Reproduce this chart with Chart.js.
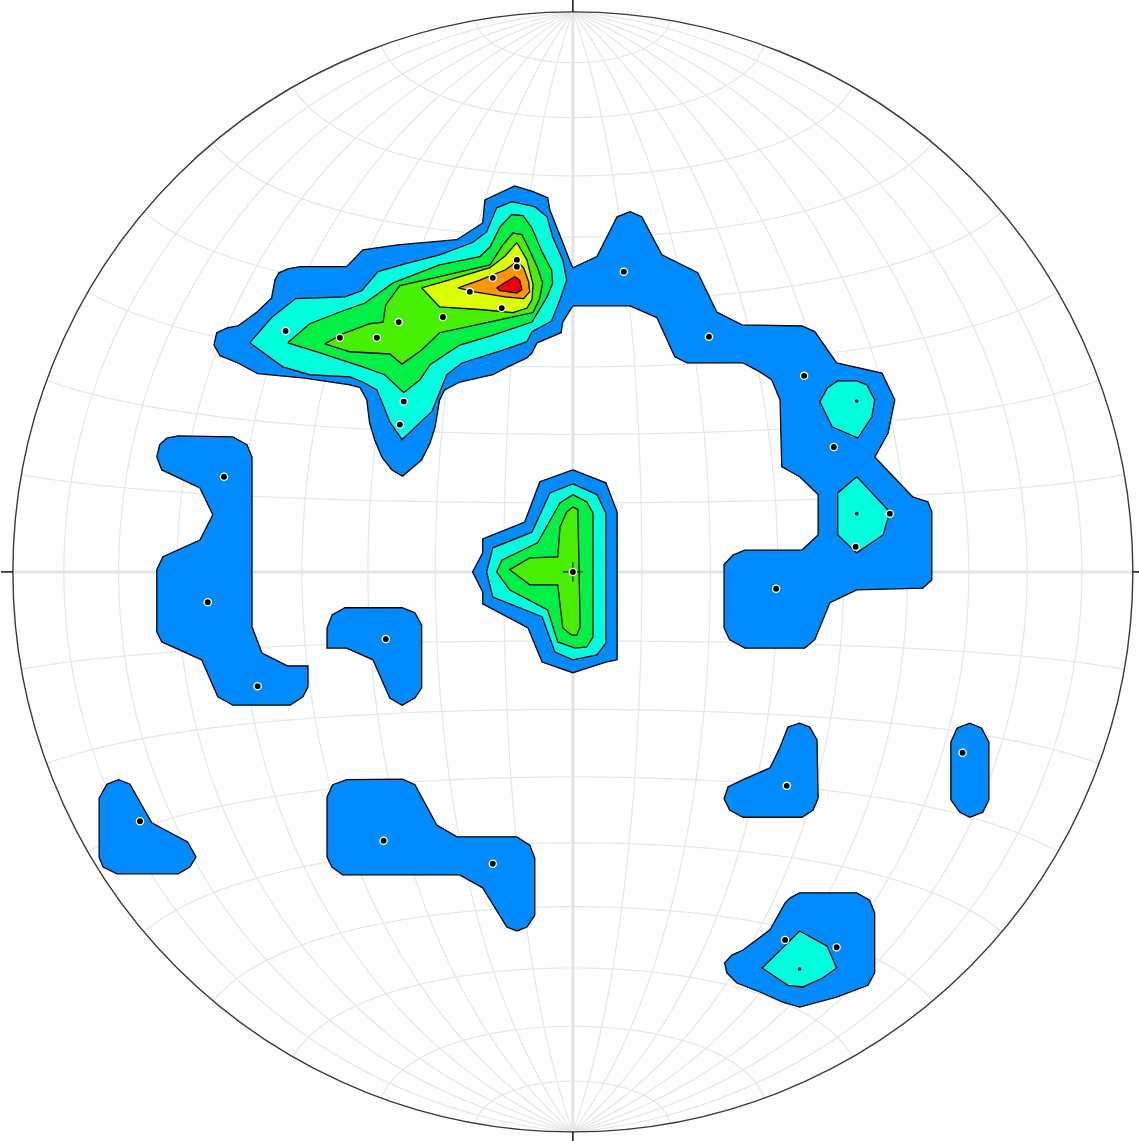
<!DOCTYPE html>
<html>
<head>
<meta charset="utf-8">
<script src="https://cdn.jsdelivr.net/npm/chart.js@4.4.0/dist/chart.umd.min.js"></script>
<style>
  html, body { margin: 0; padding: 0; background: #fff; }
  #wrap { width: 1139px; height: 1141px; }
</style>
</head>
<body>
<div id="wrap"><canvas id="net" width="1139" height="1141"></canvas></div>
<script>
// Equal-area net, radius = 1. Contour polygons are [x, y] in net units.

// level 1 (outermost)
const level1 = [
  // NW cluster joined to the eastern arc
  [[-0.641,0.405],[-0.636,0.427],[-0.616,0.436],[-0.598,0.439],[-0.564,0.464],[-0.538,0.489],[-0.532,0.521],
   [-0.525,0.534],[-0.509,0.541],[-0.487,0.545],[-0.404,0.545],[-0.375,0.575],[-0.313,0.584],[-0.207,0.593],
   [-0.161,0.623],[-0.157,0.664],[-0.104,0.689],[-0.071,0.679],[-0.045,0.668],[-0.041,0.646],[-0.018,0.588],
   [-0.005,0.554],[0,0.543],[0.043,0.563],[0.079,0.634],[0.102,0.643],[0.123,0.634],[0.159,0.566],[0.223,0.534],
   [0.257,0.464],[0.302,0.441],[0.409,0.439],[0.432,0.429],[0.471,0.373],[0.552,0.355],[0.575,0.307],[0.563,0.248],
   [0.539,0.205],[0.607,0.134],[0.634,0.125],[0.641,0.107],[0.641,-0.014],[0.625,-0.029],[0.507,-0.032],
   [0.459,-0.055],[0.432,-0.121],[0.414,-0.136],[0.307,-0.136],[0.280,-0.121],[0.270,-0.100],[0.270,0.013],
   [0.286,0.030],[0.307,0.039],[0.409,0.039],[0.438,0.066],[0.438,0.138],[0.405,0.170],[0.373,0.188],[0.370,0.307],
   [0.355,0.343],[0.334,0.357],[0.304,0.373],[0.204,0.373],[0.182,0.384],[0.150,0.454],[0.102,0.475],[0,0.475],
   [-0.018,0.446],[-0.021,0.427],[-0.064,0.409],[-0.073,0.391],[-0.082,0.382],[-0.116,0.366],[-0.143,0.352],
   [-0.202,0.339],[-0.229,0.325],[-0.238,0.307],[-0.246,0.259],[-0.255,0.230],[-0.270,0.200],[-0.304,0.171],
   [-0.323,0.182],[-0.341,0.205],[-0.354,0.236],[-0.363,0.266],[-0.368,0.307],[-0.380,0.329],[-0.398,0.334],
   [-0.479,0.346],[-0.563,0.354],[-0.598,0.373],[-0.630,0.386]],
  // centre
  [[0,0.182],[0.059,0.159],[0.079,0.107],[0.079,-0.157],[0.059,-0.161],[0,-0.180],[-0.055,-0.161],[-0.080,-0.100],
   [-0.161,-0.057],[-0.161,-0.036],[-0.179,0],[-0.161,0.034],[-0.161,0.059],[-0.086,0.089],[-0.059,0.161]],
  // west
  [[-0.725,0.239],[-0.705,0.243],[-0.607,0.241],[-0.582,0.227],[-0.573,0.205],[-0.573,-0.098],[-0.555,-0.145],
   [-0.509,-0.168],[-0.473,-0.168],[-0.473,-0.205],[-0.482,-0.223],[-0.505,-0.238],[-0.607,-0.238],[-0.634,-0.223],
   [-0.663,-0.157],[-0.734,-0.125],[-0.743,-0.107],[-0.743,0.004],[-0.732,0.027],[-0.666,0.057],[-0.643,0.102],
   [-0.666,0.150],[-0.734,0.182],[-0.743,0.205],[-0.738,0.227]],
  [[-0.439,-0.100],[-0.430,-0.077],[-0.407,-0.064],[-0.305,-0.064],[-0.282,-0.073],[-0.270,-0.095],[-0.270,-0.207],
   [-0.282,-0.225],[-0.305,-0.238],[-0.327,-0.225],[-0.357,-0.157],[-0.404,-0.136],[-0.439,-0.136]],
  // south-west
  [[-0.832,-0.379],[-0.811,-0.371],[-0.791,-0.379],[-0.752,-0.448],[-0.688,-0.482],[-0.673,-0.509],[-0.684,-0.527],
   [-0.705,-0.539],[-0.814,-0.539],[-0.839,-0.527],[-0.846,-0.509],[-0.846,-0.404]],
  [[-0.429,-0.380],[-0.404,-0.371],[-0.304,-0.370],[-0.282,-0.380],[-0.243,-0.452],[-0.207,-0.473],[-0.100,-0.473],
   [-0.077,-0.488],[-0.068,-0.511],[-0.068,-0.613],[-0.082,-0.634],[-0.100,-0.641],[-0.118,-0.634],[-0.161,-0.564],
   [-0.202,-0.541],[-0.411,-0.541],[-0.430,-0.527],[-0.439,-0.509],[-0.439,-0.402]],
  // south-east
  [[0.384,-0.277],[0.405,-0.270],[0.423,-0.277],[0.436,-0.300],[0.438,-0.404],[0.429,-0.425],[0.409,-0.438],
   [0.304,-0.438],[0.280,-0.425],[0.270,-0.405],[0.277,-0.384],[0.304,-0.371],[0.352,-0.350],[0.370,-0.313]],
  [[0.686,-0.279],[0.709,-0.270],[0.730,-0.279],[0.743,-0.304],[0.743,-0.407],[0.732,-0.429],[0.709,-0.438],
   [0.691,-0.429],[0.675,-0.407],[0.675,-0.304]],
  [[0.388,-0.582],[0.405,-0.573],[0.507,-0.573],[0.530,-0.586],[0.539,-0.609],[0.539,-0.716],[0.527,-0.738],
   [0.471,-0.759],[0.405,-0.777],[0.375,-0.768],[0.334,-0.750],[0.293,-0.734],[0.275,-0.716],[0.271,-0.698],
   [0.284,-0.684],[0.304,-0.675],[0.352,-0.639],[0.379,-0.591]]
];

const level2 = [
  [[-0.577,0.409],[-0.538,0.454],[-0.495,0.488],[-0.407,0.491],[-0.377,0.502],[-0.348,0.536],[-0.300,0.550],
   [-0.238,0.566],[-0.179,0.588],[-0.154,0.607],[-0.136,0.650],[-0.109,0.661],[-0.068,0.652],[-0.046,0.634],
   [-0.036,0.598],[-0.018,0.557],[-0.011,0.521],[-0.023,0.486],[-0.038,0.448],[-0.073,0.429],[-0.082,0.411],
   [-0.125,0.396],[-0.198,0.373],[-0.225,0.352],[-0.241,0.313],[-0.252,0.286],[-0.264,0.275],[-0.305,0.236],
   [-0.327,0.268],[-0.339,0.298],[-0.350,0.325],[-0.375,0.339],[-0.398,0.348],[-0.470,0.352],[-0.518,0.366]],
  [[0,0.157],[0.043,0.138],[0.059,0.105],[0.059,-0.127],[0.043,-0.148],[0,-0.157],[-0.032,-0.143],[-0.055,-0.080],
   [-0.143,-0.045],[-0.154,0],[-0.143,0.043],[-0.073,0.071],[-0.041,0.141]],
  [[0.473,0.341],[0.507,0.341],[0.525,0.334],[0.539,0.307],[0.534,0.277],[0.509,0.239],[0.463,0.259],
   [0.441,0.304],[0.455,0.329]],
  [[0.507,0.170],[0.566,0.107],[0.554,0.066],[0.507,0.034],[0.473,0.066],[0.473,0.141]],
  [[0.405,-0.641],[0.454,-0.668],[0.471,-0.707],[0.446,-0.725],[0.411,-0.741],[0.384,-0.738],[0.338,-0.707]]
];

const level3 = [
  [[-0.509,0.409],[-0.470,0.443],[-0.416,0.464],[-0.371,0.480],[-0.321,0.516],[-0.238,0.548],[-0.166,0.563],
   [-0.148,0.580],[-0.130,0.616],[-0.109,0.638],[-0.089,0.636],[-0.073,0.614],[-0.055,0.571],[-0.038,0.539],
   [-0.036,0.516],[-0.046,0.491],[-0.073,0.446],[-0.148,0.421],[-0.202,0.405],[-0.255,0.370],[-0.273,0.343],
   [-0.302,0.320],[-0.336,0.352],[-0.375,0.366],[-0.457,0.393]],
  [[0,0.138],[0.025,0.125],[0.036,0.105],[0.036,-0.116],[0.025,-0.134],[0.004,-0.136],[-0.027,-0.125],
   [-0.045,-0.068],[-0.113,-0.032],[-0.136,0],[-0.127,0.021],[-0.063,0.052],[-0.023,0.123]]
];

const level4 = [
  [[-0.443,0.407],[-0.411,0.425],[-0.363,0.443],[-0.339,0.446],[-0.334,0.477],[-0.309,0.511],[-0.238,0.527],
   [-0.148,0.548],[-0.125,0.584],[-0.107,0.605],[-0.091,0.602],[-0.080,0.580],[-0.063,0.543],[-0.054,0.516],
   [-0.059,0.489],[-0.071,0.463],[-0.154,0.445],[-0.238,0.427],[-0.270,0.396],[-0.305,0.371],[-0.327,0.389],
   [-0.398,0.393]],
  [[0,0.116],[0.009,0.111],[0.013,-0.098],[0.007,-0.113],[-0.002,-0.113],[-0.018,-0.100],[-0.027,-0.023],
   [-0.077,-0.023],[-0.113,0.004],[-0.077,0.025],[-0.027,0.027],[-0.023,0.080],[-0.011,0.107]]
];

const level5 = [
  [[-0.270,0.507],[-0.225,0.520],[-0.148,0.543],[-0.121,0.564],[-0.100,0.588],[-0.082,0.557],[-0.071,0.513],
   [-0.073,0.486],[-0.082,0.471],[-0.107,0.463],[-0.161,0.468],[-0.238,0.473]]
];

const level6 = [
  [[-0.205,0.507],[-0.166,0.521],[-0.121,0.539],[-0.100,0.554],[-0.088,0.543],[-0.079,0.518],[-0.077,0.500],
   [-0.088,0.488],[-0.121,0.491],[-0.175,0.500]]
];

const level7 = [
  [[-0.136,0.507],[-0.104,0.527],[-0.095,0.521],[-0.091,0.504],[-0.100,0.498],[-0.130,0.502]]
];

const levels = [level1, level2, level3, level4, level5, level6, level7];
const levelColors = ['#008cff', '#00ffdc', '#00f046', '#46f000', '#dcff00', '#ff9600', '#f00000'];

// plotted poles
const poles = [
  [-0.513,0.430],[-0.416,0.418],[-0.350,0.418],[-0.311,0.446],[-0.232,0.455],[-0.302,0.304],[-0.309,0.263],
  [-0.184,0.500],[-0.143,0.525],[-0.100,0.557],[-0.100,0.545],[-0.127,0.471],
  [0.091,0.536],[0.243,0.420],[0.413,0.350],[0.466,0.223],[0.566,0.104],[0.505,0.045],[0.363,-0.030],
  [0,0],
  [-0.623,0.170],[-0.652,-0.054],[-0.563,-0.204],[-0.334,-0.120],
  [-0.773,-0.445],[-0.338,-0.480],[-0.143,-0.521],
  [0.382,-0.382],[0.696,-0.323],[0.379,-0.657],[0.471,-0.670]
];
// density maxima markers
const maxima = [[0.507,0.305],[0.507,0.104],[0.405,-0.709]];

const toXY = (pts) => pts.map(p => ({ x: p[0], y: p[1] }));

const datasets = [];
datasets.push({
  data: toXY(poles), pointRadius: 3.6, pointBackgroundColor: '#000',
  pointBorderColor: '#fff', pointBorderWidth: 1.3, showLine: false, order: 0
});
datasets.push({
  data: toXY(maxima), pointRadius: 1.8, pointBackgroundColor: '#000',
  pointBorderWidth: 0, showLine: false, order: 1
});
datasets.push({
  data: [{ x: 0, y: 0 }], pointStyle: 'cross', pointRadius: 10, pointBorderColor: '#000',
  pointBorderWidth: 1, showLine: false, order: 2
});
levels.forEach((polys, li) => {
  polys.forEach(poly => {
    datasets.push({
      data: toXY(poly.concat([poly[0]])),
      showLine: true,
      fill: 'shape',
      backgroundColor: levelColors[li],
      borderColor: '#000',
      borderWidth: 1.3,
      pointRadius: 0,
      tension: 0,
      order: 20 - li
    });
  });
});

// Schmidt net grid, primitive circle and cardinal ticks
const netGrid = {
  id: 'netGrid',
  beforeDatasetsDraw(chart) {
    const { ctx, scales: { x, y } } = chart;
    const rad = Math.PI / 180;
    const proj = (lat, lon) => {
      const a = lat * rad, b = lon * rad;
      const k = 1 / Math.sqrt(1 + Math.cos(a) * Math.cos(b));
      return [x.getPixelForValue(k * Math.cos(a) * Math.sin(b)), y.getPixelForValue(k * Math.sin(a))];
    };
    const stroke = (pts, w, c) => {
      ctx.beginPath();
      pts.forEach((p, i) => i ? ctx.lineTo(p[0], p[1]) : ctx.moveTo(p[0], p[1]));
      ctx.lineWidth = w;
      ctx.strokeStyle = c;
      ctx.stroke();
    };
    ctx.save();
    for (let lon = -80; lon <= 80; lon += 10) {
      if (lon === 0) continue;
      const pts = [];
      for (let lat = -90; lat <= 90; lat += 1) pts.push(proj(lat, lon));
      stroke(pts, 1.2, '#e6e6e6');
    }
    for (let lat = -80; lat <= 80; lat += 10) {
      if (lat === 0) continue;
      const pts = [];
      for (let lon = -90; lon <= 90; lon += 1) pts.push(proj(lat, lon));
      stroke(pts, 1.2, '#e6e6e6');
    }
    stroke([proj(-90, 0), proj(90, 0)], 3, '#e4e4e4');
    stroke([proj(0, -90), proj(0, 90)], 3, '#e4e4e4');

    const cx = x.getPixelForValue(0), cy = y.getPixelForValue(0);
    const r = x.getPixelForValue(1) - cx;
    ctx.beginPath();
    ctx.arc(cx, cy, r, 0, Math.PI * 2);
    ctx.lineWidth = 1.4;
    ctx.strokeStyle = '#3a3a3a';
    ctx.stroke();
    const t = 1.021;
    [[0, 1], [1, 0], [0, -1], [-1, 0]].forEach(([dx, dy]) => {
      stroke([[x.getPixelForValue(dx), y.getPixelForValue(dy)],
              [x.getPixelForValue(dx * t), y.getPixelForValue(dy * t)]], 1.4, '#000');
    });
    ctx.restore();
  }
};

new Chart(document.getElementById('net'), {
  type: 'scatter',
  data: { datasets },
  options: {
    responsive: false,
    animation: false,
    devicePixelRatio: 1,
    layout: { padding: 0, autoPadding: false },
    plugins: { legend: { display: false }, tooltip: { enabled: false } },
    scales: {
      x: { type: 'linear', min: -1.023, max: 1.011, display: false },
      y: { type: 'linear', min: -1.016, max: 1.021, display: false }
    }
  },
  plugins: [netGrid]
});
</script>
</body>
</html>
